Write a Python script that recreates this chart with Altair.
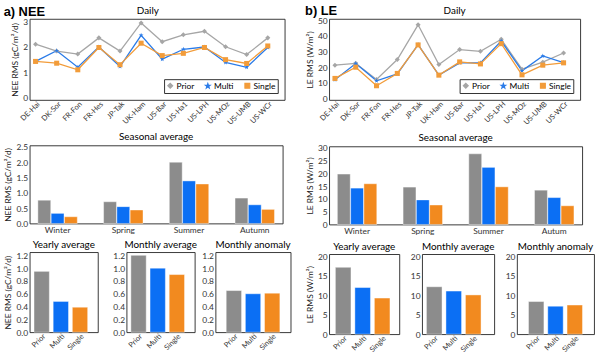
import altair as alt
import pandas as pd

FONT = "Lato"

sites = ["DE-Hai", "DK-Sor", "FR-Fon", "FR-Hes", "JP-Tak", "UK-Ham",
         "US-Bar", "US-Ha1", "US-LPH", "US-MOz", "US-UMB", "US-WCr"]
models = ["Prior", "Multi", "Single"]

# Daily NEE RMS (gC/m2/d)
nee_daily_prior = [2.10, 1.83, 1.71, 2.35, 1.83, 2.94, 2.20, 2.47, 2.61, 2.00, 1.69, 2.35]
nee_daily_multi = [1.42, 1.84, 1.19, 1.99, 1.22, 2.45, 1.51, 1.90, 1.99, 1.38, 1.19, 1.97]
nee_daily_single = [1.42, 1.35, 1.09, 1.97, 1.29, 2.14, 1.65, 1.74, 1.97, 1.49, 1.34, 2.03]

# Daily LE RMS (W/m2)
le_daily_prior = [21.3, 22.5, 12.1, 24.9, 47.2, 21.7, 31.3, 30.2, 37.9, 18.7, 23.2, 29.1]
le_daily_multi = [11.9, 22.3, 11.3, 15.7, 34.5, 14.9, 22.8, 22.8, 36.8, 17.7, 27.2, 23.0]
le_daily_single = [12.8, 20.0, 8.1, 16.0, 34.3, 14.9, 23.4, 22.1, 35.1, 15.1, 21.3, 22.8]

# Seasonal averages
seasons_nee = ["Winter", "Spring", "Summer", "Autumn"]
seasons_le = ["Winter", "Spring", "Summer", "Autum"]
nee_season_prior = [0.76, 0.71, 2.00, 0.83]
nee_season_multi = [0.33, 0.55, 1.39, 0.61]
nee_season_single = [0.22, 0.44, 1.29, 0.46]
le_season_prior = [19.7, 14.6, 27.6, 13.4]
le_season_multi = [14.2, 9.6, 22.3, 10.5]
le_season_single = [15.9, 7.6, 14.7, 7.3]

# Yearly / monthly summaries (Prior, Multi, Single)
small_titles = ["Yearly average", "Monthly average", "Monthly anomaly"]
nee_yearly = [0.95, 0.48, 0.39]
nee_monthly = [1.20, 1.00, 0.90]
nee_anomaly = [0.65, 0.60, 0.61]
le_yearly = [17.2, 12.0, 9.3]
le_monthly = [12.2, 11.1, 10.1]
le_anomaly = [8.4, 7.2, 7.5]

nee_ticks_daily = [0, 1, 2, 3]
le_ticks_daily = [0, 10, 20, 30, 40, 50]
nee_ticks_season = [0, 0.5, 1.0, 1.5, 2.0, 2.5]
le_ticks_season = [0, 5, 10, 15, 20, 25, 30]
nee_ticks_small = [0, 0.2, 0.4, 0.6, 0.8, 1.0, 1.2]
le_ticks_small = [0, 5, 10, 15, 20]

line_colors = ["#a6a6a6", "#2a7be8", "#f29c3a"]
bar_colors = ["#8c8c8c", "#0b6ff4", "#f28a1f"]
STAR = ("M0,-1L0.24,-0.33L0.95,-0.31L0.38,0.12L0.59,0.81L0,0.4"
        "L-0.59,0.81L-0.38,0.12L-0.95,-0.31L-0.24,-0.33Z")
shapes = ["diamond", STAR, "square"]

TITLE_FS = 10
IND = dict(color="independent", shape="independent")


def daily_chart(prior, multi, single, ytitle, domain, ticks, width, frame):
    rows = []
    for m, vals in zip(models, [prior, multi, single]):
        for i, s in enumerate(sites):
            rows.append({"idx": i + 1, "site": s, "model": m, "value": vals[i]})
    df = pd.DataFrame(rows)
    label_expr = "[" + ",".join("'%s'" % s for s in sites) + "][datum.value - 1]"
    x = alt.X("idx:Q", scale=alt.Scale(domain=[0.72, 12.8], nice=False, zero=False),
              axis=alt.Axis(values=list(range(1, 13)), labelExpr=label_expr,
                            labelAngle=-45, labelAlign="right", labelBaseline="top",
                            title=None, ticks=False, labelPadding=0, labelFontSize=7.5))
    y = alt.Y("value:Q", scale=alt.Scale(domain=domain, nice=False, zero=False),
              axis=alt.Axis(values=ticks, title=ytitle, ticks=False))
    leg = alt.Legend(title=None, orient="bottom-right", direction="horizontal",
                     strokeColor="#333", fillColor="white", padding=2,
                     labelFontSize=8.5, symbolSize=24, columnPadding=8,
                     labelOffset=2, offset=7, labelFont=FONT, symbolStrokeWidth=1.2)
    color = alt.Color("model:N", scale=alt.Scale(domain=models, range=line_colors), legend=leg)
    shape = alt.Shape("model:N", scale=alt.Scale(domain=models, range=shapes), legend=leg)
    base = alt.Chart(df).encode(x=x, y=y, color=color)
    lines = base.mark_line(strokeWidth=1.3)
    pts = base.mark_point(filled=True, size=26, opacity=1).encode(shape=shape)
    return alt.layer(lines, pts).properties(
        width=width, height=82,
        title=alt.TitleParams("Daily", fontSize=TITLE_FS, font=FONT,
                              fontWeight="normal", frame=frame, offset=1))


def seasonal_chart(seasons, prior, multi, single, ytitle, domain, ticks, fmt, width):
    rows = []
    for m, vals in zip(models, [prior, multi, single]):
        for s, v in zip(seasons, vals):
            rows.append({"season": s, "model": m, "value": v})
    df = pd.DataFrame(rows)
    return alt.Chart(df).mark_bar(stroke="white", strokeWidth=0.7, strokeOpacity=0.6).encode(
        x=alt.X("season:N", sort=seasons,
                scale=alt.Scale(domain=seasons, paddingInner=0.4, paddingOuter=0.125),
                axis=alt.Axis(labelAngle=0, ticks=False, title=None, labelPadding=2)),
        xOffset=alt.XOffset("model:N", scale=alt.Scale(domain=models, paddingInner=0.03)),
        y=alt.Y("value:Q", scale=alt.Scale(domain=domain, nice=False),
                axis=alt.Axis(values=ticks, format=fmt, title=ytitle, ticks=False)),
        color=alt.Color("model:N", scale=alt.Scale(domain=models, range=bar_colors), legend=None),
    ).properties(width=width, height=79,
                 title=alt.TitleParams("Seasonal average", fontSize=TITLE_FS, font=FONT,
                                       fontWeight="normal", offset=1))


def small_chart(vals, title, ytitle, domain, ticks, fmt, width, po, align):
    df = pd.DataFrame({"model": models, "value": vals})
    if ytitle:
        yaxis = alt.Axis(values=ticks, format=fmt, ticks=False, title=ytitle)
    else:
        yaxis = alt.Axis(values=ticks, format=fmt, ticks=False, title=None)
    return alt.Chart(df).mark_bar(stroke="white", strokeWidth=0.7, strokeOpacity=0.6).encode(
        x=alt.X("model:N", sort=models,
                scale=alt.Scale(domain=models, paddingInner=0.2, paddingOuter=po, align=align),
                axis=alt.Axis(labelAngle=-45, labelAlign="right", labelBaseline="top",
                              ticks=False, title=None, labelPadding=0, labelFontSize=7.5)),
        y=alt.Y("value:Q", scale=alt.Scale(domain=domain, nice=False), axis=yaxis),
        color=alt.Color("model:N", scale=alt.Scale(domain=models, range=bar_colors), legend=None),
    ).properties(width=width, height=81,
                 title=alt.TitleParams(title, fontSize=TITLE_FS, font=FONT,
                                       fontWeight="normal", offset=1))


nee_y = "NEE RMS (gC/m²/d)"
le_y = "LE RMS (W/m²)"

left_small = alt.hconcat(
    alt.hconcat(
        small_chart(nee_yearly, small_titles[0], nee_y, [0, 1.25], nee_ticks_small, ".1f", 69, 0.38, 0.3),
        small_chart(nee_monthly, small_titles[1], None, [0, 1.25], nee_ticks_small, ".1f", 69, 0.38, 0.3),
        spacing=13).resolve_scale(**IND),
    small_chart(nee_anomaly, small_titles[2], None, [0, 1.25], nee_ticks_small, ".1f", 76, 0.56, 0.5),
    spacing=3).resolve_scale(**IND)

right_small = alt.hconcat(
    small_chart(le_yearly, small_titles[0], le_y, [0, 20.6], le_ticks_small, "d", 71, 0.4, 0.4),
    small_chart(le_monthly, small_titles[1], None, [0, 20.6], le_ticks_small, "d", 73, 0.45, 0.25),
    small_chart(le_anomaly, small_titles[2], None, [0, 20.6], le_ticks_small, "d", 78, 0.6, 0.5),
    spacing=9).resolve_scale(**IND)

left = alt.vconcat(
    daily_chart(nee_daily_prior, nee_daily_multi, nee_daily_single, nee_y,
                [-0.1, 3.1], nee_ticks_daily, 258, "bounds"),
    seasonal_chart(seasons_nee, nee_season_prior, nee_season_multi, nee_season_single,
                   nee_y, [0, 2.55], nee_ticks_season, ".1f", 256),
    left_small,
    spacing=5,
    title=alt.TitleParams("a) NEE", anchor="start", fontSize=13, fontWeight="bold",
                          font="Liberation Sans", offset=-13),
).resolve_scale(**IND).resolve_legend(**IND)

right = alt.vconcat(
    daily_chart(le_daily_prior, le_daily_multi, le_daily_single, le_y,
                [-1, 51], le_ticks_daily, 254, "group"),
    seasonal_chart(seasons_le, le_season_prior, le_season_multi, le_season_single,
                   le_y, [0, 30.5], le_ticks_season, "d", 256),
    right_small,
    spacing=5,
    title=alt.TitleParams("b) LE", anchor="start", fontSize=13, fontWeight="bold",
                          font="Liberation Sans", offset=-13),
).resolve_scale(**IND).resolve_legend(**IND)

chart = alt.hconcat(left, right, spacing=13).resolve_scale(**IND).resolve_legend(**IND).properties(
    padding={"left": 3, "top": 3, "right": 2, "bottom": 2},
    background="white",
).configure_view(
    stroke="#222", strokeWidth=0.9,
).configure_axis(
    labelFont=FONT, titleFont=FONT, labelFontSize=8.5, titleFontSize=8.5,
    labelColor="#333", titleColor="#222", grid=False, domain=False,
    titleFontWeight="normal", titlePadding=3, labelOverlap=False,
).configure_legend(
    labelFont=FONT,
)

chart.save("out.html", embed_options={"renderer": "svg", "actions": False})
